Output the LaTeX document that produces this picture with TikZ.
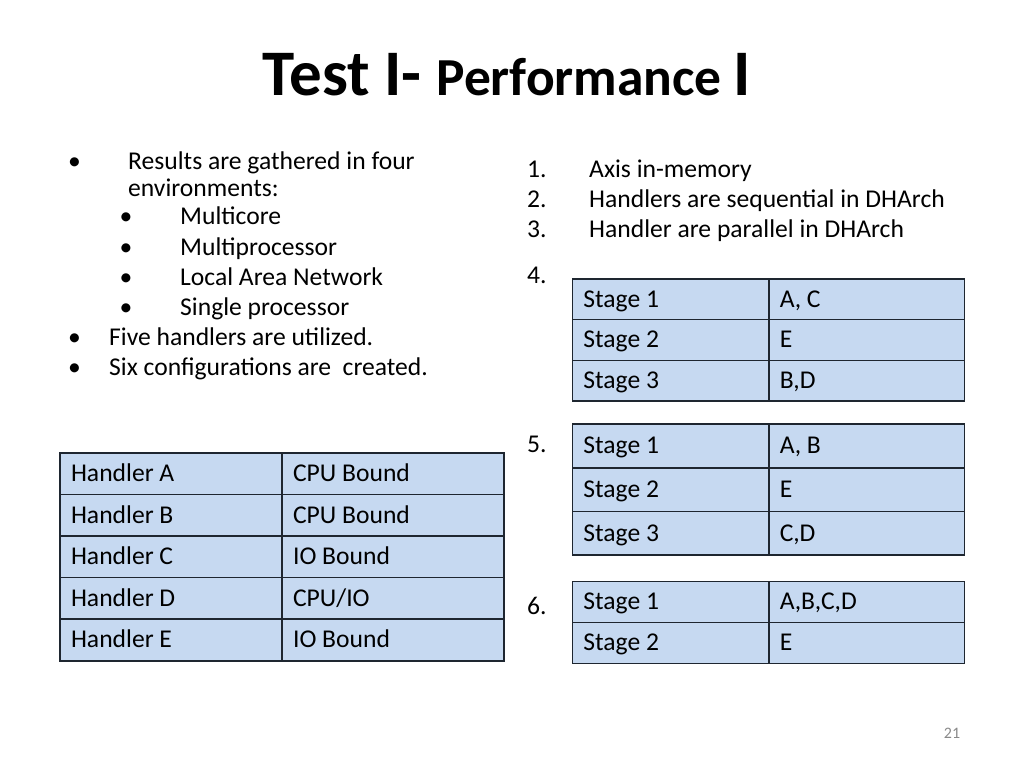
\documentclass[tikz,border=0pt]{standalone}
\usepackage{fontspec}
\setmainfont{Carlito}
\definecolor{tblfill}{RGB}{198,217,241}
\definecolor{tblline}{RGB}{30,38,48}
\definecolor{pgnum}{RGB}{137,137,137}
\newcommand\bodyfont{\fontsize{25.6}{30.7}\selectfont}
\newcommand\mycell[6]{\node[cell, text width=#4pt, minimum height=#5pt] (#1) at (#2,#3) {#6};}
\tikzset{
  cell/.style={draw=tblline, fill=tblfill, line width=1.5pt, inner ysep=0pt, inner xsep=11pt,
    anchor=north west, text height=18pt, text depth=2pt, align=flush left, font=\bodyfont},
  txt/.style={anchor=base west, inner sep=0pt, font=\bodyfont},
}
\begin{document}
\begin{tikzpicture}[x=1pt,y=-1pt]
\useasboundingbox (0,0) rectangle (1024,768);
% title
\node[anchor=base, inner sep=0pt] (title) at (507,95)
  {\bfseries\fontsize{65}{72}\selectfont Test I- \fontsize{53.5}{62}\selectfont Performance \fontsize{65}{72}\selectfont I};
% left bullets
\node[txt] (b1) at (68,169) {•};
\node[txt] (t1) at (128,169) {Results are gathered in four};
\node[txt] (t1b) at (128,196) {environments:};
\node[txt] (sb1) at (119.5,224) {•};
\node[txt] (st1) at (180,224) {Multicore};
\node[txt] (sb2) at (119.5,255) {•};
\node[txt] (st2) at (180,255) {Multiprocessor};
\node[txt] (sb3) at (119.5,285) {•};
\node[txt] (st3) at (180,285) {Local Area Network};
\node[txt] (sb4) at (119.5,315) {•};
\node[txt] (st4) at (180,315) {Single processor};
\node[txt] (b2) at (68,345) {•};
\node[txt] (t2) at (109,345) {Five handlers are utilized.};
\node[txt] (b3) at (68,375) {•};
\node[txt] (t3) at (109,375) {Six configurations are \ created.};
% right numbered list
\node[txt] (n1) at (527,177) {1.};
\node[txt] (l1) at (589,177) {Axis in-memory};
\node[txt] (n2) at (527,207) {2.};
\node[txt] (l2) at (589,207) {Handlers are sequential in DHArch};
\node[txt] (n3) at (527,237) {3.};
\node[txt] (l3) at (589,237) {Handler are parallel in DHArch};
\node[txt] (n4) at (527,283) {4.};
\node[txt] (n5) at (527,452) {5.};
\node[txt] (n6) at (527,614) {6.};
% handler table
\mycell{ha1}{59.3}{452.3}{200}{41.54}{Handler A}
\mycell{ha2}{281.3}{452.3}{200}{41.54}{CPU Bound}
\mycell{hb1}{59.3}{493.84}{200}{41.54}{Handler B}
\mycell{hb2}{281.3}{493.84}{200}{41.54}{CPU Bound}
\mycell{hc1}{59.3}{535.38}{200}{41.54}{Handler C}
\mycell{hc2}{281.3}{535.38}{200}{41.54}{IO Bound}
\mycell{hd1}{59.3}{576.92}{200}{41.54}{Handler D}
\mycell{hd2}{281.3}{576.92}{200}{41.54}{CPU/IO}
\mycell{he1}{59.3}{618.46}{200}{41.54}{Handler E}
\mycell{he2}{281.3}{618.46}{200}{41.54}{IO Bound}
% table 4
\mycell{fa1}{571.7}{278.3}{174.3}{40.6}{Stage 1}
\mycell{fa2}{768}{278.3}{173.5}{40.6}{A, C}
\mycell{fb1}{571.7}{318.9}{174.3}{40.6}{Stage 2}
\mycell{fb2}{768}{318.9}{173.5}{40.6}{E}
\mycell{fc1}{571.7}{359.5}{174.3}{40.6}{Stage 3}
\mycell{fc2}{768}{359.5}{173.5}{40.6}{B,D}
% table 5
\mycell{va1}{571.7}{423.3}{174.3}{43.7}{Stage 1}
\mycell{va2}{768}{423.3}{173.5}{43.7}{A, B}
\mycell{vb1}{571.7}{467.0}{174.3}{43.7}{Stage 2}
\mycell{vb2}{768}{467.0}{173.5}{43.7}{E}
\mycell{vc1}{571.7}{510.7}{174.3}{43.7}{Stage 3}
\mycell{vc2}{768}{510.7}{173.5}{43.7}{C,D}
% table 6
\mycell{xa1}{571.7}{580.7}{174.3}{41}{Stage 1}
\mycell{xa2}{768}{580.7}{173.5}{41}{A,B,C,D}
\mycell{xb1}{571.7}{621.7}{174.3}{41}{Stage 2}
\mycell{xb2}{768}{621.7}{173.5}{41}{E}
% page number
\node[anchor=base, inner sep=0pt, text=pgnum, font=\fontsize{16}{19}\selectfont] (pg) at (952,738) {21};
\end{tikzpicture}
\end{document}
